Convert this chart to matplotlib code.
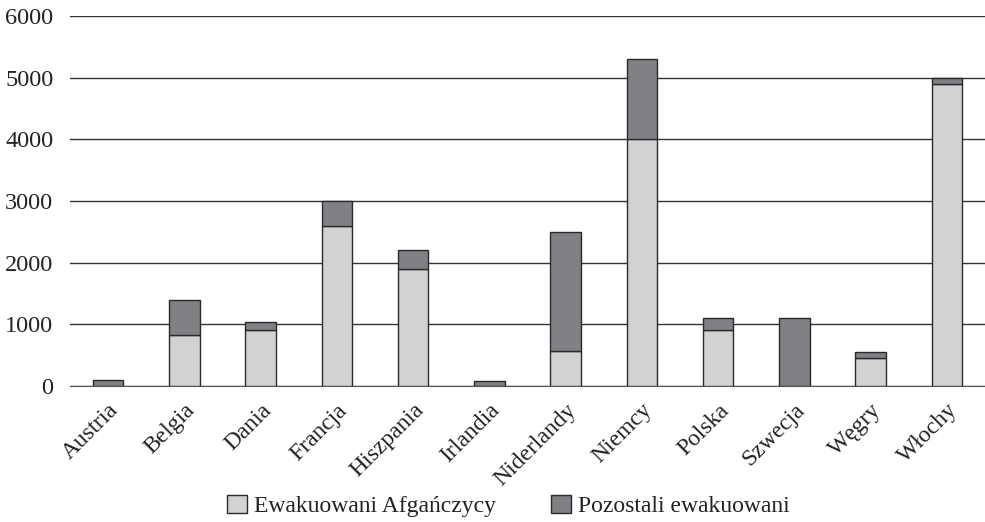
import matplotlib
matplotlib.use("Agg")
import matplotlib.pyplot as plt
from matplotlib.patches import Patch

countries = ["Austria", "Belgia", "Dania", "Francja", "Hiszpania", "Irlandia",
             "Niderlandy", "Niemcy", "Polska", "Szwecja", "Węgry", "Włochy"]
afghans = [0, 820, 900, 2600, 1900, 0, 560, 4000, 900, 0, 450, 4900]
others = [100, 580, 130, 400, 300, 70, 1940, 1300, 200, 1100, 90, 100]
yticks = [0, 1000, 2000, 3000, 4000, 5000, 6000]

plt.rcParams['font.family'] = ['Liberation Serif', 'DejaVu Serif']

light = "#d1d2d4"
dark = "#808184"
edge = "#2a2a2a"

fig = plt.figure(figsize=(9.85, 5.22), dpi=100)
ax = fig.add_axes([0.071, 0.261, 0.929, 0.708])

x = range(len(countries))
ax.bar(x, afghans, width=0.4, color=light, edgecolor=edge, linewidth=1, zorder=3)
ax.bar(x, others, width=0.4, bottom=afghans, color=dark, edgecolor=edge, linewidth=1, zorder=3)

ax.set_xlim(-0.5, len(countries) - 0.5)
ax.set_ylim(0, 6000)
ax.set_yticks(yticks)
ax.set_yticklabels([str(v) for v in yticks], fontsize=17.5, color="#222222")
ax.yaxis.grid(True, color="#333333", linewidth=1)
ax.set_axisbelow(True)
for s in ["top", "right", "left"]:
    ax.spines[s].set_visible(False)
ax.spines["bottom"].set_color("#555555")
ax.tick_params(axis="both", length=0)
ax.tick_params(axis="y", pad=12)
ax.set_xticks(list(x))
ax.set_xticklabels(countries, rotation=45, ha="right", rotation_mode="anchor",
                   fontsize=17, color="#222222")
ax.tick_params(axis="x", pad=10)

handles = [Patch(facecolor=light, edgecolor=edge, label="Ewakuowani Afgańczycy"),
           Patch(facecolor=dark, edgecolor=edge, label="Pozostali ewakuowani")]
fig.legend(handles=handles, loc="center", bbox_to_anchor=(0.516, 0.03), ncol=2,
           frameon=False, fontsize=17, handlelength=0.85, handleheight=0.75,
           handletextpad=0.3, columnspacing=2.3, labelcolor="#222222")

fig.savefig("out.png", dpi=100)
